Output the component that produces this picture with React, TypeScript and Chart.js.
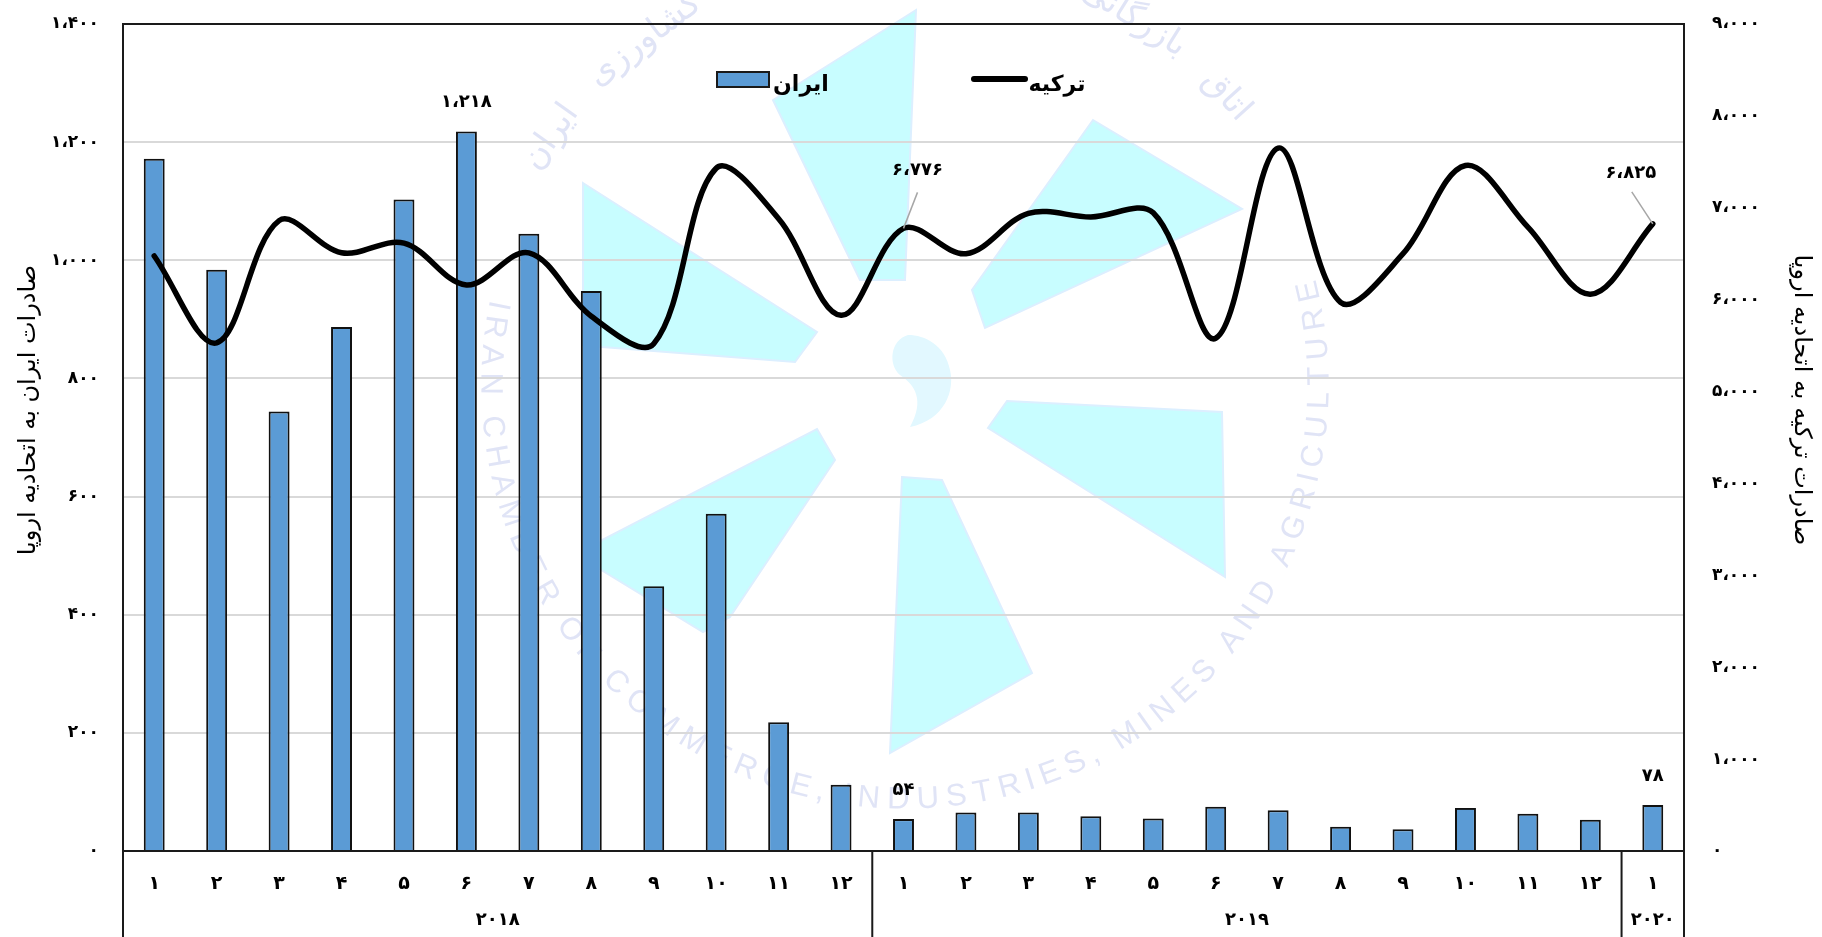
import React, { useEffect, useRef } from "react";
import { Chart, registerables } from "chart.js";

Chart.register(...registerables);

const monthLabels = ["۱","۲","۳","۴","۵","۶","۷","۸","۹","۱۰","۱۱","۱۲","۱","۲","۳","۴","۵","۶","۷","۸","۹","۱۰","۱۱","۱۲","۱"];
const iranValues = [1172,984,744,887,1103,1218,1045,948,448,571,218,112,54,65,65,59,55,75,69,41,37,73,63,53,78];
const turkeyValues = [6475,5530,6860,6510,6615,6160,6510,5820,5520,7430,6880,5830,6776,6500,6940,6900,6945,5580,7650,5970,6500,7460,6790,6060,6825];
const leftTickLabels = ["۰","۲۰۰","۴۰۰","۶۰۰","۸۰۰","۱،۰۰۰","۱،۲۰۰","۱،۴۰۰"];
const rightTickLabels = ["۰","۱،۰۰۰","۲،۰۰۰","۳،۰۰۰","۴،۰۰۰","۵،۰۰۰","۶،۰۰۰","۷،۰۰۰","۸،۰۰۰","۹،۰۰۰"];
const yearLabels = ["۲۰۱۸","۲۰۱۹","۲۰۲۰"];
const yearSpans = [12,12,1];
const iranLabelIdx = [5,12,24];
const iranLabelText = ["۱،۲۱۸","۵۴","۷۸"];
const turkeyLabelIdx = [12,24];
const turkeyLabelText = ["۶،۷۷۶","۶،۸۲۵"];
const seriesNames = ["ایران","ترکیه"];
const leftTitle = "صادرات ایران به اتحادیه اروپا";
const rightTitle = "صادرات ترکیه به اتحادیه اروپا";
const watermarkEn = "IRAN CHAMBER OF COMMERCE, INDUSTRIES, MINES AND AGRICULTURE";
const watermarkFa = ["اتاق","بازرگانی","صنایع","معادن","و","کشاورزی","ایران"];

const FONT = '"DejaVu Sans", "Noto Sans", sans-serif';

const drawWatermark = (ctx: CanvasRenderingContext2D) => {
  const blades: number[][][] = [
    [[916,10],[905,280],[860,280],[773,100]],
    [[583,183],[817,332],[795,362],[602,347],[583,345]],
    [[1093,120],[1242,209],[985,328],[972,290]],
    [[817,429],[835,460],[730,617],[703,632],[585,560],[602,540]],
    [[1007,401],[1222,412],[1225,577],[988,428]],
    [[902,477],[942,480],[1032,673],[890,753]],
  ];
  ctx.save();
  ctx.fillStyle = "#c8fdff";
  ctx.strokeStyle = "#dcefff";
  ctx.lineWidth = 2;
  blades.forEach((p) => {
    ctx.beginPath();
    p.forEach(([x, y], i) => (i ? ctx.lineTo(x, y) : ctx.moveTo(x, y)));
    ctx.closePath();
    ctx.fill();
    ctx.stroke();
  });
  ctx.fillStyle = "#e2f8ff";
  ctx.beginPath();
  ctx.moveTo(908, 335);
  ctx.bezierCurveTo(890, 340, 888, 365, 900, 375);
  ctx.bezierCurveTo(915, 385, 925, 400, 910, 427);
  ctx.bezierCurveTo(945, 420, 955, 390, 950, 370);
  ctx.bezierCurveTo(945, 345, 925, 335, 908, 335);
  ctx.fill();

  const cx = 905, cy = 385, r = 415;
  ctx.fillStyle = "#e0e4f6";
  ctx.textAlign = "center";
  ctx.textBaseline = "middle";
  ctx.font = '31px "Liberation Sans", sans-serif';
  const chars = Array.from(watermarkEn);
  const widths = chars.map((c) => ctx.measureText(c).width + 3);
  const total = widths.reduce((a, b) => a + b, 0);
  const startA = (192 * Math.PI) / 180, endA = (-15 * Math.PI) / 180;
  let acc = 0;
  chars.forEach((c, i) => {
    const t = (acc + widths[i] / 2) / total;
    const a = startA + (endA - startA) * t;
    ctx.save();
    ctx.translate(cx + r * Math.cos(a), cy + r * Math.sin(a));
    ctx.rotate(a - Math.PI / 2);
    ctx.fillText(c, 0, 0);
    ctx.restore();
    acc += widths[i];
  });
  ctx.font = `34px ${FONT}`;
  const faAngles = [48, 32, 12, -8, -18, -37, -55];
  const rFa = 432;
  watermarkFa.forEach((w, i) => {
    const a = (faAngles[i] * Math.PI) / 180;
    ctx.save();
    ctx.translate(cx + rFa * Math.sin(a), cy - rFa * Math.cos(a));
    ctx.rotate(a);
    ctx.fillText(w, 0, 0);
    ctx.restore();
  });
  ctx.restore();
};

const overlay = {
  id: "overlay",
  beforeDraw(chart: any) {
    drawWatermark(chart.ctx);
  },
  afterDraw(chart: any) {
    const { ctx, chartArea: a, scales, height } = chart;
    const x = scales.x;
    const step = x.getPixelForValue(1) - x.getPixelForValue(0);
    ctx.save();
    // frame
    ctx.strokeStyle = "#1a1a1a";
    ctx.lineWidth = 2;
    ctx.beginPath();
    ctx.moveTo(a.left, height);
    ctx.lineTo(a.left, a.top);
    ctx.lineTo(a.right, a.top);
    ctx.lineTo(a.right, height);
    ctx.moveTo(a.left, a.bottom);
    ctx.lineTo(a.right, a.bottom);
    let cum = 0;
    yearSpans.forEach((n) => {
      cum += n;
      const sx = x.getPixelForValue(cum - 1) + step / 2;
      ctx.moveTo(sx, a.bottom);
      ctx.lineTo(sx, height);
    });
    ctx.stroke();
    // years
    ctx.fillStyle = "#000";
    ctx.textAlign = "center";
    ctx.textBaseline = "middle";
    ctx.font = `bold 18px ${FONT}`;
    cum = 0;
    yearSpans.forEach((n, i) => {
      const cxp = (x.getPixelForValue(cum) + x.getPixelForValue(cum + n - 1)) / 2;
      ctx.fillText(yearLabels[i], cxp, 920);
      cum += n;
    });
    // bar labels
    iranLabelIdx.forEach((idx, i) => {
      ctx.fillText(iranLabelText[i], x.getPixelForValue(idx), scales.y.getPixelForValue(iranValues[idx]) - 29);
    });
    // line labels with leaders
    const labelDx = [14, -22];
    const labelDy = [-58, -51];
    const leadDx = [14, -21];
    const leadDy = [-36, -32];
    turkeyLabelIdx.forEach((idx, i) => {
      const px = x.getPixelForValue(idx);
      const py = scales.y1.getPixelForValue(turkeyValues[idx]);
      ctx.strokeStyle = "#a6a6a6";
      ctx.lineWidth = 1.5;
      ctx.beginPath();
      ctx.moveTo(px, py);
      ctx.lineTo(px + leadDx[i], py + leadDy[i]);
      ctx.stroke();
      ctx.fillText(turkeyLabelText[i], px + labelDx[i], py + labelDy[i]);
    });
    // legend
    ctx.fillStyle = "#5b9bd5";
    ctx.strokeStyle = "#1a1a1a";
    ctx.lineWidth = 2;
    ctx.fillRect(717, 72, 52, 15);
    ctx.strokeRect(717, 72, 52, 15);
    ctx.strokeStyle = "#000";
    ctx.lineWidth = 6;
    ctx.lineCap = "round";
    ctx.beginPath();
    ctx.moveTo(974, 79);
    ctx.lineTo(1025, 79);
    ctx.stroke();
    ctx.fillStyle = "#000";
    ctx.font = `bold 22px ${FONT}`;
    ctx.fillText(seriesNames[0], 801, 85);
    ctx.fillText(seriesNames[1], 1057, 85);
    // axis titles
    ctx.font = `24px ${FONT}`;
    ctx.save();
    ctx.translate(29, 410);
    ctx.rotate(-Math.PI / 2);
    ctx.fillText(leftTitle, 0, 0);
    ctx.restore();
    ctx.save();
    ctx.translate(1801, 400);
    ctx.rotate(Math.PI / 2);
    ctx.fillText(rightTitle, 0, 0);
    ctx.restore();
    ctx.restore();
  },
};

const fitY = (w: number) => (s: any) => {
  s.width = w;
  s.paddingTop = 0;
  s.paddingBottom = 0;
};

export default function App() {
  const ref = useRef<HTMLCanvasElement>(null);
  useEffect(() => {
    if (!ref.current) return;
    const chart = new Chart(ref.current, {
      type: "bar",
      data: {
        labels: monthLabels,
        datasets: [
          {
            type: "line",
            label: seriesNames[1],
            data: turkeyValues,
            yAxisID: "y1",
            borderColor: "#000",
            borderWidth: 5.5,
            borderCapStyle: "round",
            borderJoinStyle: "round",
            pointRadius: 0,
            tension: 0.35,
            order: 1,
          },
          {
            type: "bar",
            label: seriesNames[0],
            data: iranValues,
            yAxisID: "y",
            backgroundColor: "#5b9bd5",
            borderColor: "#111",
            borderWidth: 2,
            barPercentage: 0.335,
            categoryPercentage: 1,
            order: 2,
          },
        ],
      } as any,
      plugins: [overlay],
      options: {
        animation: false,
        responsive: false,
        devicePixelRatio: 1,
        layout: { padding: { top: 24 }, autoPadding: false },
        plugins: { legend: { display: false }, tooltip: { enabled: false } },
        scales: {
          x: {
            grid: { display: false },
            border: { display: false },
            ticks: {
              color: "#000",
              font: { family: FONT, size: 19, weight: "bold" },
              padding: 14,
              maxRotation: 0,
              autoSkip: false,
            },
            afterFit: (s: any) => { s.height = 86; s.paddingLeft = 0; s.paddingRight = 0; },
          },
          y: {
            position: "left",
            min: 0,
            max: 1400,
            grid: { color: "#d9d9d9", lineWidth: 2, drawTicks: false, tickLength: 0 },
            border: { display: false },
            ticks: {
              stepSize: 200,
              color: "#000",
              padding: 24,
              font: { family: FONT, size: 17, weight: "bold" },
              callback: (_v: any, i: number) => leftTickLabels[i],
            },
            afterFit: fitY(123),
          },
          y1: {
            position: "right",
            min: 0,
            max: 9000,
            grid: { display: false },
            border: { display: false },
            ticks: {
              stepSize: 1000,
              color: "#000",
              padding: 20,
              font: { family: FONT, size: 17, weight: "bold" },
              callback: (_v: any, i: number) => rightTickLabels[i],
            },
            afterFit: fitY(138),
          },
        },
      } as any,
    });
    return () => chart.destroy();
  }, []);
  return (
    <div style={{ position: "fixed", left: 0, top: 0, width: 1822, height: 937, background: "#fff" }}>
      <canvas ref={ref} width={1822} height={937} style={{ display: "block" }} />
    </div>
  );
}
